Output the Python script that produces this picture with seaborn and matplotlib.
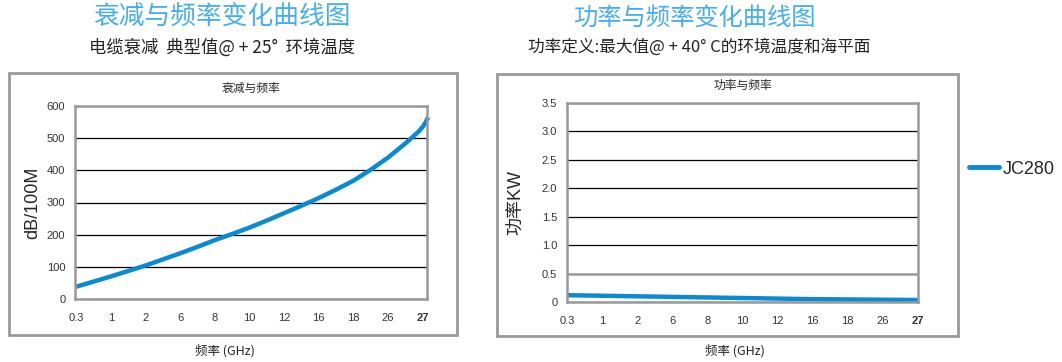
import numpy as np
import pandas as pd
import matplotlib
matplotlib.use('Agg')
import matplotlib.pyplot as plt
import seaborn as sns
from matplotlib.patches import Rectangle
from matplotlib.lines import Line2D

# tick labels (categorical frequency axis, GHz)
freq_labels = ['0.3', '1', '2', '6', '8', '10', '12', '16', '18', '26', '27']

# attenuation curve (x = position along the category axis)
atten_pos = [0, 0.5, 1, 1.5, 2, 2.5, 3, 3.5, 4, 4.5, 5, 5.5, 6, 6.5, 7, 7.5,
             8, 8.5, 9, 9.25, 9.5, 9.75, 9.9, 10.0, 10.07, 10.15]
atten_db = [38, 54, 70, 87, 104, 123, 142, 162, 183, 202, 222, 244, 267, 290, 314, 340,
            368, 402, 440, 462, 484, 508, 523, 536, 547, 565]

# power curve (kW)
power_pos = list(range(11))
power_kw = [0.12, 0.11, 0.10, 0.09, 0.08, 0.07, 0.06, 0.05, 0.045, 0.04, 0.035]

line_color = '#0a8ad2'
frame_color = '#999999'

sns.set_style('white')
plt.rcParams['font.family'] = ['Liberation Sans', 'Noto Sans CJK SC', 'DejaVu Sans']

fig = plt.figure(figsize=(10.62, 3.62), dpi=100)

cjk = ['Noto Sans CJK SC', 'DejaVu Sans']

# header texts
fig.text(222/1062, 1-18/362, '衰减与频率变化曲线图', family=cjk, fontsize=18.5,
         color='#45aef0', ha='center', va='center', fontweight='light')
fig.text(222/1062, 1-47/362, '电缆衰减  典型值@ + 25°  环境温度', family=cjk, fontsize=12.5,
         color='#222222', ha='center', va='center')
fig.text(694/1062, 1-18/362, '功率与频率变化曲线图', family=cjk, fontsize=17.5,
         color='#45aef0', ha='center', va='center', fontweight='light')
fig.text(699/1062, 1-47/362, '功率定义:最大值@ + 40° C的环境温度和海平面', family=cjk, fontsize=12,
         color='#222222', ha='center', va='center')

# outer boxes
fig.patches.append(Rectangle((9/1062, 1-335/362), 448/1062, 262/362, transform=fig.transFigure,
                             fill=False, edgecolor=frame_color, lw=2))
fig.patches.append(Rectangle((497/1062, 1-336/362), 461/1062, 262/362, transform=fig.transFigure,
                             fill=False, edgecolor=frame_color, lw=2))

ax1 = fig.add_axes([75/1062, 1-299/362, 352/1062, 193/362])
ax2 = fig.add_axes([567/1062, 1-302/362, 351/1062, 199/362])

df1 = pd.DataFrame({'pos': atten_pos, 'db': atten_db})
df2 = pd.DataFrame({'pos': power_pos, 'kw': power_kw})

sns.lineplot(data=df1, x='pos', y='db', ax=ax1, color=line_color, lw=3.2, clip_on=False,
             solid_capstyle='butt', solid_joinstyle='round')
sns.lineplot(data=df2, x='pos', y='kw', ax=ax2, color=line_color, lw=3.2, solid_capstyle='butt')

def style(ax, xmin, xmax, ylim, yticks, ylabels, ylab, title, labelpad):
    ax.set_xlim(xmin, xmax)
    ax.set_ylim(*ylim)
    ax.set_xticks(range(len(freq_labels)))
    ax.set_xticklabels(freq_labels, fontsize=8, color='#333333')
    ax.get_xticklabels()[-1].set_fontweight('bold')
    ax.set_yticks(yticks)
    ax.set_yticklabels(ylabels, fontsize=8, color='#333333')
    ax.tick_params(axis='both', length=0)
    ax.tick_params(axis='x', pad=10)
    ax.tick_params(axis='y', pad=7)
    ax.yaxis.grid(True, color='black', lw=0.9)
    ax.set_axisbelow(True)
    for s in ax.spines.values():
        s.set_color(frame_color)
        s.set_linewidth(1.8)
        s.set_visible(True)
    ax.set_xlabel('')
    ax.set_ylabel(ylab, fontsize=13, family=['Liberation Sans', 'Noto Sans CJK SC'],
                  labelpad=labelpad)
    ax.set_title(title, family=cjk, fontsize=8.5, pad=10)

style(ax1, -0.03, 10.12, (0, 600), [0, 100, 200, 300, 400, 500, 600],
      ['0', '100', '200', '300', '400', '500', '600'], 'dB/100M', '衰减与频率', 4)
style(ax2, 0, 10, (0, 3.5), [0, 0.5, 1.0, 1.5, 2.0, 2.5, 3.0, 3.5],
      ['0', '0.5', '1.0', '1.5', '2.0', '2.5', '3.0', '3.5'], '功率KW', '功率与频率', 12)
ax2.get_ygridlines()[1].set_color(frame_color)
ax2.get_ygridlines()[1].set_linewidth(1.8)

fig.text(225/1062, 1-351/362, '频率 (GHz)', family=cjk, fontsize=9, ha='center', va='center')
fig.text(735/1062, 1-351/362, '频率 (GHz)', family=cjk, fontsize=9, ha='center', va='center')

# legend
handle = Line2D([], [], color=line_color, lw=3.5)
fig.legend([handle], ['JC280'], loc='center left', bbox_to_anchor=(969/1062, 1-169/362),
           frameon=False, borderpad=0, borderaxespad=0, handlelength=1.65, handletextpad=0.2,
           prop={'family': 'Liberation Sans', 'size': 13})

fig.savefig('out.png', dpi=100)
